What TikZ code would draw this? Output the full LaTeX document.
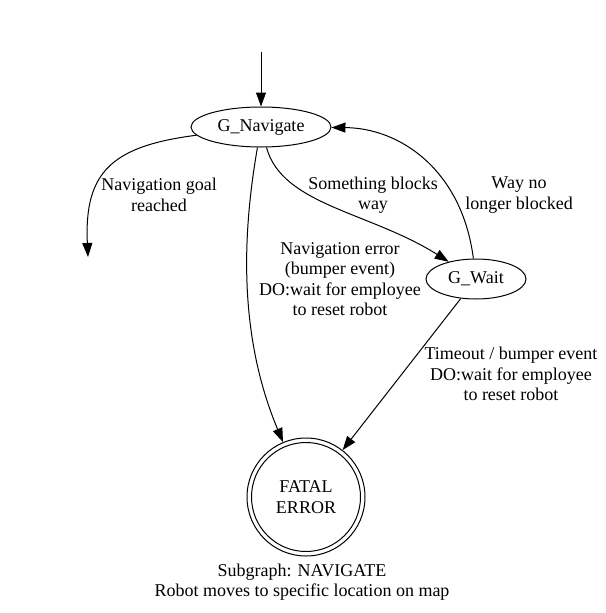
\documentclass[tikz,border=0pt]{standalone}
\usepackage{fontspec}
\setmainfont{Liberation Serif}
\usetikzlibrary{arrows.meta,shapes.geometric}
\begin{document}
\begin{tikzpicture}[x=1pt,y=-1pt,
  every node/.style={font=\fontsize{18}{20.5}\selectfont},
  state/.style={draw,ellipse,line width=1pt,inner sep=0pt},
  lbl/.style={align=center,inner sep=0pt},
  edge/.style={line width=1pt,-{Triangle[length=14pt,width=10pt]}}]
\useasboundingbox (0,0) rectangle (605,613);
\node[state,minimum width=140pt,minimum height=40pt] (nav) at (261,127) {G\_Navigate};
\node[state,minimum width=100pt,minimum height=40pt] (wait) at (476,279) {G\_Wait};
\node[draw,circle,line width=1pt,minimum size=118pt,inner sep=0pt,align=center] (fatal) at (306,497) {FATAL\\ERROR};
\draw[line width=1pt] (fatal.center) circle (54.5);
\coordinate (start) at (261,52);
\coordinate (goal) at (88,257);
\draw[edge] (start) -- (nav);
\draw[edge] (nav) .. controls (112,146) and (84,172) .. (goal);
\draw[edge] (nav) .. controls (244,225) and (236,330) .. (fatal);
\draw[edge] (nav) .. controls (282,205) and (370,212) .. (wait);
\draw[edge] (wait) .. controls (462,170) and (400,128) .. (nav);
\draw[edge] (wait) -- (fatal);
\node[lbl] (l1) at (159,195) {Navigation goal\\reached};
\node[lbl] (l2) at (373,195) {Something blocks\\way};
\node[lbl] (l3) at (519,195) {Way no\\longer blocked};
\node[lbl] (l4) at (340,279) {Navigation error\\(bumper event)\\DO:wait for employee\\to reset robot};
\node[lbl] (l5) at (511,374) {Timeout / bumper event\\DO:wait for employee\\to reset robot};
\node[lbl] (l6) at (302,582) {Subgraph: NAVIGATE\\Robot moves to specific location on map};
\end{tikzpicture}
\end{document}
